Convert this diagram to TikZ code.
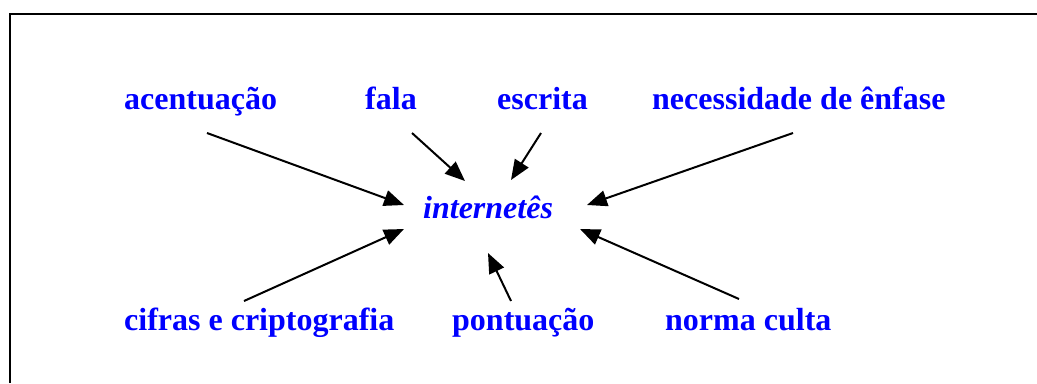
\documentclass[tikz,border=0pt]{standalone}
\usepackage{fontspec}
\setmainfont{Liberation Serif}
\usetikzlibrary{arrows.meta}
\begin{document}
\begin{tikzpicture}[x=1bp,y=-1bp,
  lbl/.style={anchor=base west, inner sep=0pt, text=blue,
    font=\fontsize{32bp}{38bp}\selectfont\bfseries},
  ctr/.style={lbl, font=\fontsize{32bp}{38bp}\selectfont\bfseries\itshape},
  arr/.style={line width=2bp, -{Triangle[length=20bp,width=16bp]}},
  frame/.style={line width=2bp}]
\useasboundingbox (0,0) rectangle (1037,383);
\draw[frame] (9.5,383) -- (9.5,13.5) -- (1037,13.5);
% labels
\node[lbl] (acent) at (124,109) {acentuação};
\node[lbl] (fala) at (365,109) {fala};
\node[lbl] (escr) at (497,109) {escrita};
\node[lbl] (enf) at (652,109) {necessidade de ênfase};
\node[ctr] (net) at (423,218) {internetês};
\node[lbl] (cifr) at (124,330) {cifras e criptografia};
\node[lbl] (pont) at (452,330) {pontuação};
\node[lbl] (norma) at (665,330) {norma culta};
% connector end points
\coordinate (a1) at (207,133); \coordinate (a2) at (404,205);
\coordinate (f1) at (412,133); \coordinate (f2) at (465,181);
\coordinate (e1) at (541,133); \coordinate (e2) at (511,180);
\coordinate (n1) at (793,133); \coordinate (n2) at (587,205);
\coordinate (c1) at (244,301); \coordinate (c2) at (404,229);
\coordinate (p1) at (511,301); \coordinate (p2) at (488,253);
\coordinate (m1) at (739,299); \coordinate (m2) at (580,229);
\draw[arr] (a1) -- (a2);
\draw[arr] (f1) -- (f2);
\draw[arr] (e1) -- (e2);
\draw[arr] (n1) -- (n2);
\draw[arr] (c1) -- (c2);
\draw[arr] (p1) -- (p2);
\draw[arr] (m1) -- (m2);
\end{tikzpicture}
\end{document}
